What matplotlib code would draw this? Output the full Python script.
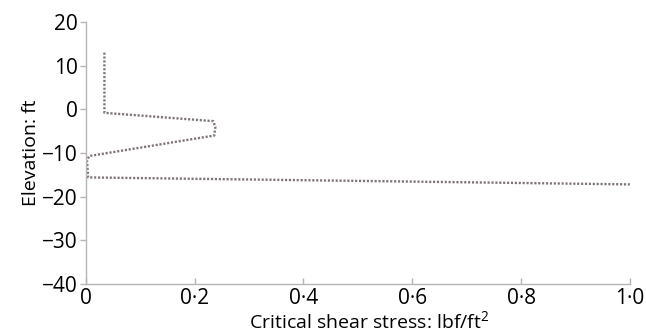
import matplotlib
matplotlib.use("Agg")
import matplotlib.pyplot as plt
from matplotlib.ticker import FuncFormatter

plt.rcParams['font.family'] = ['Open Sans', 'DejaVu Sans']
plt.rcParams['mathtext.fontset'] = 'custom'
plt.rcParams['mathtext.rm'] = 'Open Sans'

# critical shear stress profile (lbf/ft2) vs elevation (ft)
stress = [0.034, 0.034, 0.234, 0.238, 0.236, 0.006, 0.002, 0.004, 1.0]
elevation = [13.0, -0.8, -2.7, -4.0, -6.0, -10.7, -11.7, -15.6, -17.2]

xticks = [0, 0.2, 0.4, 0.6, 0.8, 1.0]
yticks = [20, 10, 0, -10, -20, -30, -40]

fig = plt.figure(figsize=(6.46, 3.34), dpi=100)
ax = fig.add_axes([0.133, 0.150, 0.842, 0.784])

ax.plot(stress, elevation, color='#7e7474', lw=1.7,
        linestyle=(0, (0.9, 0.75)), dash_capstyle='butt')

ax.set_xlim(0, 1.0)
ax.set_ylim(-40, 20)
ax.set_xticks(xticks)
ax.set_yticks(yticks)

def xfmt(v, pos):
    if v == 0:
        return '0'
    return ('%.1f' % v).replace('.', '\u00b7')

def yfmt(v, pos):
    return ('%d' % v).replace('-', '\u2212')

ax.xaxis.set_major_formatter(FuncFormatter(xfmt))
ax.yaxis.set_major_formatter(FuncFormatter(yfmt))

for s in ['top', 'right']:
    ax.spines[s].set_visible(False)
for s in ['left', 'bottom']:
    ax.spines[s].set_color('#b5b5b5')
    ax.spines[s].set_linewidth(1.0)

ax.tick_params(axis='y', direction='out', length=4, width=1, color='#b5b5b5',
               labelsize=15, pad=2)
ax.tick_params(axis='x', direction='in', length=4, width=1, color='#b5b5b5',
               labelsize=15, pad=3)

ax.set_xlabel('Critical shear stress: lbf/ft$^{\\mathregular{2}}$', fontsize=14, labelpad=1)
ax.xaxis.label.set_x(0.52)
ax.set_ylabel('Elevation: ft', fontsize=14, labelpad=1)

fig.savefig('out.png', dpi=100)
